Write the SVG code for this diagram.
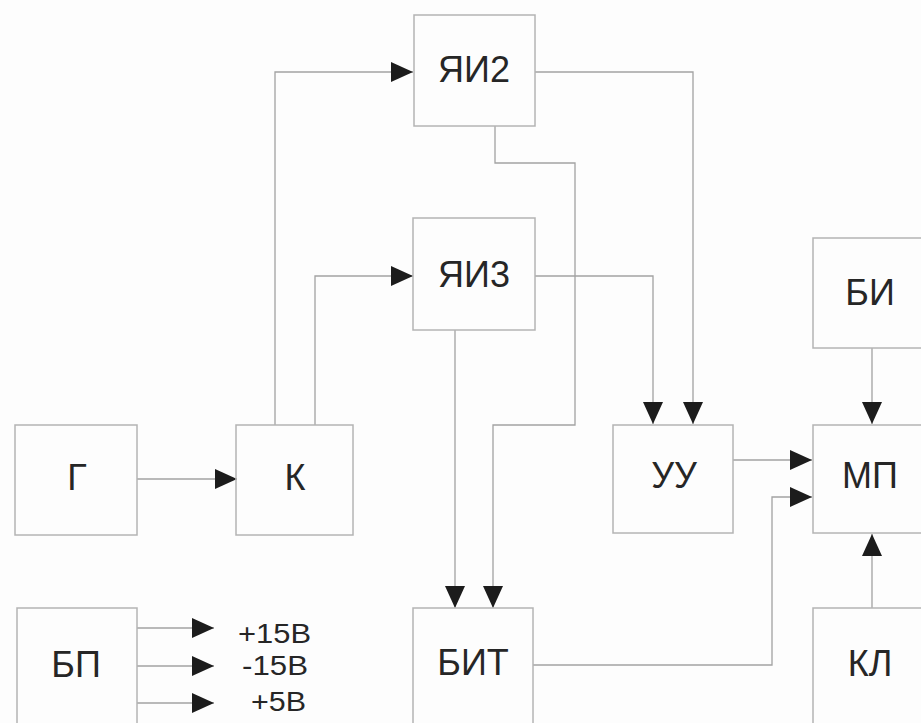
<svg xmlns="http://www.w3.org/2000/svg" width="921" height="723" viewBox="0 0 921 723">
<style>
.box{fill:none;stroke:#b4b4b4;stroke-width:1.5}
.lbl{font-family:"Liberation Sans",Arial,sans-serif;font-size:36px;fill:#262626;text-anchor:middle}
.v{font-family:"Liberation Sans",Arial,sans-serif;font-size:28px;fill:#262626}
.ln{fill:none;stroke:#a2a2a2;stroke-width:1.3}
</style>
<defs>
<marker id="ah" viewBox="0 0 22 22" markerWidth="22" markerHeight="22" refX="22" refY="11" orient="auto" markerUnits="userSpaceOnUse">
<path d="M0,1 L22,11 L0,21 z" fill="#1c1c1c"/>
</marker>
</defs>
<rect width="921" height="723" fill="#fdfdfd"/>
<g id="connectors">
<path class="ln" d="M137,479 H237" marker-end="url(#ah)"/>
<path class="ln" d="M275,425 V72 H413" marker-end="url(#ah)"/>
<path class="ln" d="M315,425 V276 H413" marker-end="url(#ah)"/>
<path class="ln" d="M535,72 H693 V424" marker-end="url(#ah)"/>
<path class="ln" d="M535,276 H653 V424" marker-end="url(#ah)"/>
<path class="ln" d="M495,126 V163 H575 V425 H493 V608" marker-end="url(#ah)"/>
<path class="ln" d="M455,330 V608" marker-end="url(#ah)"/>
<path class="ln" d="M733,460 H812" marker-end="url(#ah)"/>
<path class="ln" d="M533,665 H772 V497 H812" marker-end="url(#ah)"/>
<path class="ln" d="M872,348 V424" marker-end="url(#ah)"/>
<path class="ln" d="M872,608 V534" marker-end="url(#ah)"/>
<path class="ln" d="M137,628 H214" marker-end="url(#ah)"/>
<path class="ln" d="M137,666 H214" marker-end="url(#ah)"/>
<path class="ln" d="M137,703 H214" marker-end="url(#ah)"/>
</g>
<g id="node-YaI2"><rect class="box" x="414" y="15" width="121" height="111"/><text class="lbl" x="474" y="82">ЯИ2</text></g>
<g id="node-YaI3"><rect class="box" x="413" y="218" width="122" height="112"/><text class="lbl" x="474" y="287">ЯИ3</text></g>
<g id="node-G"><rect class="box" x="15" y="425" width="122" height="110"/><text class="lbl" x="77" y="490">Г</text></g>
<g id="node-K"><rect class="box" x="236" y="425" width="117" height="110"/><text class="lbl" x="295" y="490">К</text></g>
<g id="node-UU"><rect class="box" x="613" y="425" width="120" height="108"/><text class="lbl" x="674" y="488">УУ</text></g>
<g id="node-BI"><rect class="box" x="813" y="238" width="130" height="110"/><text class="lbl" x="870" y="305">БИ</text></g>
<g id="node-MP"><rect class="box" x="813" y="425" width="130" height="108"/><text class="lbl" x="870" y="488">МП</text></g>
<g id="node-BP"><rect class="box" x="17" y="608" width="120" height="130"/><text class="lbl" x="76" y="677">БП</text></g>
<g id="node-BIT"><rect class="box" x="413" y="608" width="120" height="130"/><text class="lbl" x="473" y="675">БИТ</text></g>
<g id="node-KL"><rect class="box" x="813" y="608" width="130" height="130"/><text class="lbl" x="870" y="676">КЛ</text></g>
<g id="labels">
<text class="v" x="238" y="643" textLength="73" lengthAdjust="spacingAndGlyphs">+15В</text>
<text class="v" x="242" y="675" textLength="66" lengthAdjust="spacingAndGlyphs">-15В</text>
<text class="v" x="251" y="711" textLength="55" lengthAdjust="spacingAndGlyphs">+5В</text>
</g>
</svg>
